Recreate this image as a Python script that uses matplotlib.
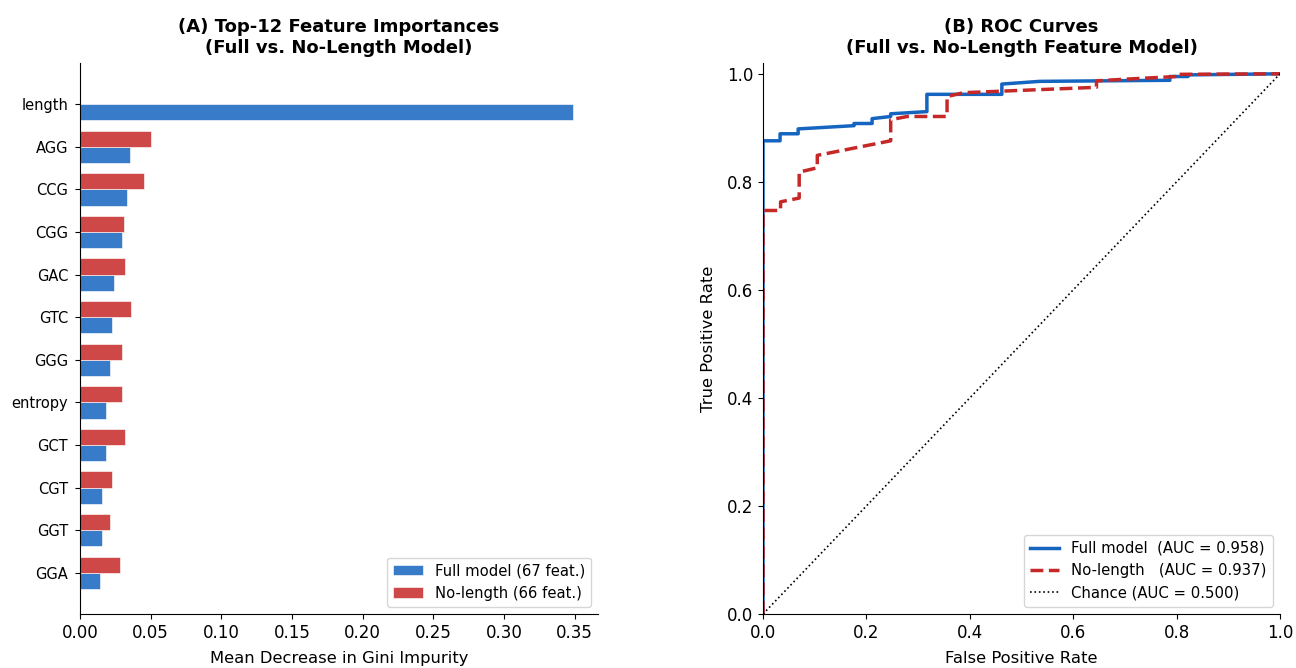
import matplotlib
matplotlib.use("Agg")
import matplotlib.pyplot as plt
import numpy as np

features = ["length", "AGG", "CCG", "CGG", "GAC", "GTC", "GGG", "entropy",
            "GCT", "CGT", "GGT", "GGA"]
imp_full = [0.349, 0.0356, 0.0336, 0.0300, 0.0238, 0.0227, 0.0213, 0.0185,
            0.0182, 0.0157, 0.0154, 0.0143]
imp_nolen = [0.0, 0.0499, 0.0456, 0.0314, 0.0319, 0.0361, 0.0297, 0.0297,
             0.0316, 0.0227, 0.0210, 0.0283]

fpr_full = [0, 0, 0.033, 0.033, 0.068, 0.068, 0.176, 0.176, 0.211, 0.211, 0.247, 0.247,
            0.317, 0.317, 0.388, 0.462, 0.462, 0.535, 0.787, 0.787, 0.822, 0.822, 1.0]
tpr_full = [0, 0.876, 0.876, 0.889, 0.889, 0.898, 0.904, 0.908, 0.908, 0.917, 0.921, 0.926,
            0.930, 0.962, 0.962, 0.962, 0.981, 0.986, 0.988, 0.995, 0.995, 0.998, 1.0]
fpr_nolen = [0, 0, 0.034, 0.034, 0.070, 0.070, 0.105, 0.105, 0.247, 0.247, 0.279, 0.356,
             0.356, 0.388, 0.645, 0.645, 0.70, 0.80, 0.80, 1.0]
tpr_nolen = [0, 0.747, 0.747, 0.763, 0.770, 0.818, 0.826, 0.849, 0.876, 0.915, 0.921, 0.921,
             0.958, 0.965, 0.975, 0.987, 0.990, 0.995, 0.999, 1.0]
auc_full, auc_nolen = 0.958, 0.937

BLUE = "#1565C0"
RED = "#C62828"

fig = plt.figure(figsize=(12.96, 6.68), dpi=100)
ax1 = fig.add_axes([80/1296, 54/668, 518/1296, 551/668])
ax2 = fig.add_axes([763/1296, 54/668, 517/1296, 551/668])

y = np.arange(len(features))
h = 0.38
ax1.barh(y + h/2, imp_full, height=h, color=BLUE, alpha=0.85, edgecolor="white",
         linewidth=0.5, label="Full model (67 feat.)")
ax1.barh(y - h/2, imp_nolen, height=h, color=RED, alpha=0.85, edgecolor="white",
         linewidth=0.5, label="No-length (66 feat.)")
ax1.set_yticks(y)
ax1.set_yticklabels(features, fontsize=10.5)
ax1.tick_params(axis="y", pad=5)
ax1.invert_yaxis()
ax1.tick_params(axis="x", labelsize=12)
ax1.set_xlabel("Mean Decrease in Gini Impurity", fontsize=11.8, labelpad=7)
ax1.set_title("(A) Top-12 Feature Importances\n(Full vs. No-Length Model)",
              fontsize=13, fontweight="bold", linespacing=1.25, pad=7)
ax1.spines["top"].set_visible(False)
ax1.spines["right"].set_visible(False)
ax1.legend(loc="lower right", fontsize=10.6)

ax2.plot(fpr_full, tpr_full, color=BLUE, lw=2.5,
         label=f"Full model  (AUC = {auc_full:.3f})")
ax2.plot(fpr_nolen, tpr_nolen, color=RED, lw=2.5, ls="--",
         label=f"No-length   (AUC = {auc_nolen:.3f})")
ax2.plot([0, 1], [0, 1], color="black", lw=1.2, ls=":", label="Chance (AUC = 0.500)")
ax2.set_xlim(0, 1)
ax2.set_ylim(0, 1.02)
ax2.tick_params(labelsize=12)
ax2.set_xlabel("False Positive Rate", fontsize=11.8, labelpad=7)
ax2.set_ylabel("True Positive Rate", fontsize=11.8, labelpad=8)
ax2.set_title("(B) ROC Curves\n(Full vs. No-Length Feature Model)",
              fontsize=13, fontweight="bold", linespacing=1.25, pad=7)
ax2.spines["top"].set_visible(False)
ax2.spines["right"].set_visible(False)
ax2.legend(loc="lower right", fontsize=10.7)

fig.savefig("out.png", dpi=100)
